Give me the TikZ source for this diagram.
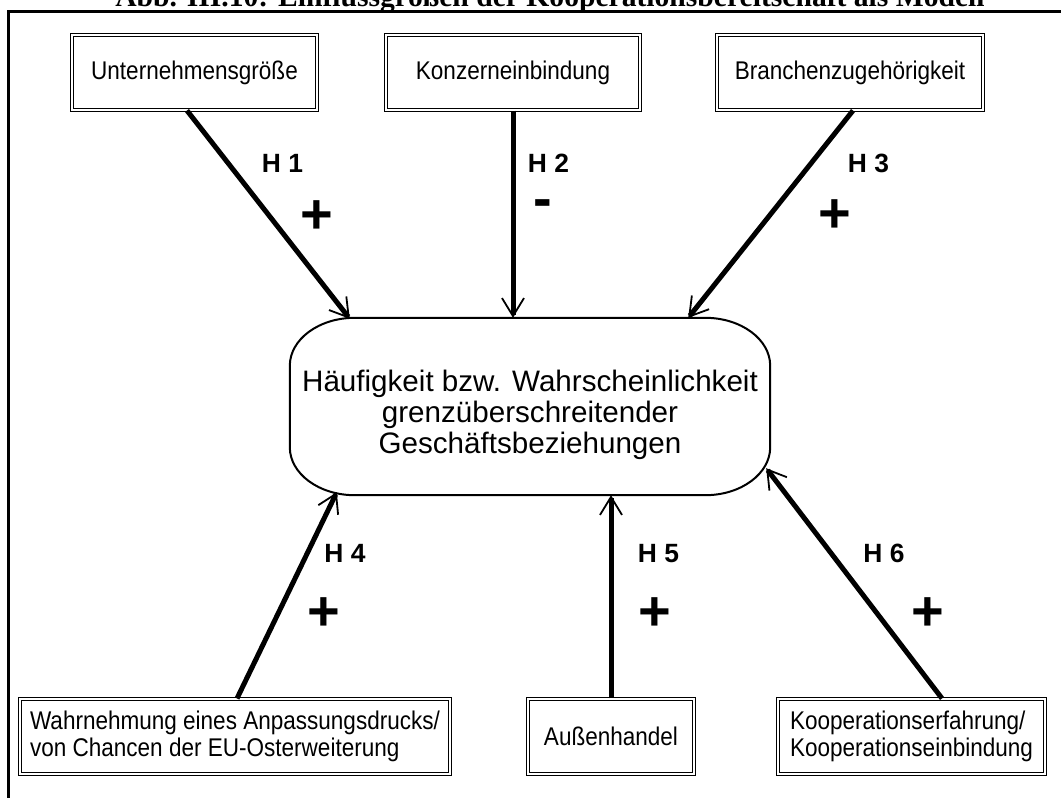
\documentclass[tikz,border=0pt]{standalone}
\usepackage{fontspec}
\setmainfont{Liberation Sans}
\newfontfamily\captionserif{Liberation Serif}
\newfontfamily\boxfont[FakeStretch=0.88]{Liberation Sans}
\usetikzlibrary{arrows.meta}

\begin{document}
\begin{tikzpicture}[x=1pt,y=1pt,
  factor/.style={draw=black, line width=1.1pt, double=white, double distance=1.4pt,
    inner sep=0pt, minimum height=75pt, font=\boxfont\fontsize{25.6}{27}\selectfont},
  factorleft/.style={factor, align=left},
  hub/.style={minimum width=480pt, minimum height=177pt},
  hubtext/.style={align=center, inner sep=0pt, font=\fontsize{29.6}{31}\selectfont},
  hyp/.style={font=\bfseries\fontsize{26.4}{30}\selectfont, anchor=base},
  sign/.style={font=\bfseries\fontsize{56}{60}\selectfont, anchor=base, inner sep=0pt},
  arr/.style={line width=5pt, -{Straight Barb[length=18pt, width=22pt, line width=1.8pt]}},
]
\useasboundingbox (0,0) rectangle (1061,-798);
\clip (0,0) rectangle (1061,-798);

% caption, cut by the top edge of the page
\node[font=\captionserif\bfseries\fontsize{29.6}{32}\selectfont, anchor=base, inner sep=0pt]
  (caption) at (550,-6) {Abb. III.10: Einflussgrößen der Kooperationsbereitschaft als Modell};

% outer frame
\draw[line width=3pt] (8,-798) -- (8,-11) -- (1070,-11);

% determinants
\node[factor, minimum width=245pt] (u) at (194.5,-72.5) {Unternehmensgröße};
\node[factor, minimum width=254pt] (k) at (513,-72.5) {Konzerneinbindung};
\node[factor, minimum width=266pt] (b) at (850,-72.5) {Branchenzugehörigkeit};

\node[factorleft, minimum width=430pt] (w) at (235,-736.5)
  {Wahrnehmung eines Anpassungsdrucks/\\von Chancen der EU-Osterweiterung};
\node[factor, minimum width=166pt] (a) at (611,-736.5) {Außenhandel};
\node[factorleft, minimum width=267pt] (ko) at (911.5,-736.5)
  {Kooperationserfahrung/\\Kooperationseinbindung};

% dependent variable: rounded box with its text
\node[hub] (c) at (530,-406.5) {};
\node[hubtext] (ct) at ([yshift=-8pt]c.center)
  {Häufigkeit bzw. Wahrscheinlichkeit\\grenzüberschreitender\\Geschäftsbeziehungen};
\draw[line width=2pt]
  ([xshift=65pt]c.north west) -- ([xshift=-65pt]c.north east)
  arc[start angle=90, end angle=0, x radius=65pt, y radius=48pt]
  -- ([yshift=48pt]c.south east)
  arc[start angle=0, end angle=-90, x radius=65pt, y radius=48pt]
  -- ([xshift=65pt]c.south west)
  arc[start angle=-90, end angle=-180, x radius=65pt, y radius=48pt]
  -- ([yshift=-48pt]c.north west)
  arc[start angle=180, end angle=90, x radius=65pt, y radius=48pt] -- cycle;

% hypotheses
\draw[arr] ([xshift=-7.5pt]u.south) -- ([xshift=60pt,yshift=-1pt]c.north west);
\draw[arr] (k.south) -- (k.south |- c.north);
\draw[arr] ([xshift=3pt]b.south) -- ([xshift=-82pt]c.north east);
\draw[arr] ([xshift=2pt]w.north) -- ([xshift=47pt,yshift=3pt]c.south west);
\draw[arr] (a.north) -- (a.north |- c.south);
\draw[arr] ([xshift=30.5pt]ko.north) -- ([xshift=-4pt,yshift=27pt]c.south east);

\node[hyp] (h1) at (282.5,-172) {H 1};
\node[hyp] (h2) at (548.5,-172) {H 2};
\node[hyp] (h3) at (868.5,-172) {H 3};
\node[hyp] (h4) at (345,-562) {H 4};
\node[hyp] (h5) at (658.5,-562) {H 5};
\node[hyp] (h6) at (884,-562) {H 6};

\node[sign] (s1) at (316.5,-233) {+};
\node[sign] (s2) at (542.5,-217) {-};
\node[sign] (s3) at (834.5,-232) {+};
\node[sign] (s4) at (323.5,-630) {+};
\node[sign] (s5) at (655,-630) {+};
\node[sign] (s6) at (928,-630) {+};
\end{tikzpicture}
\end{document}
